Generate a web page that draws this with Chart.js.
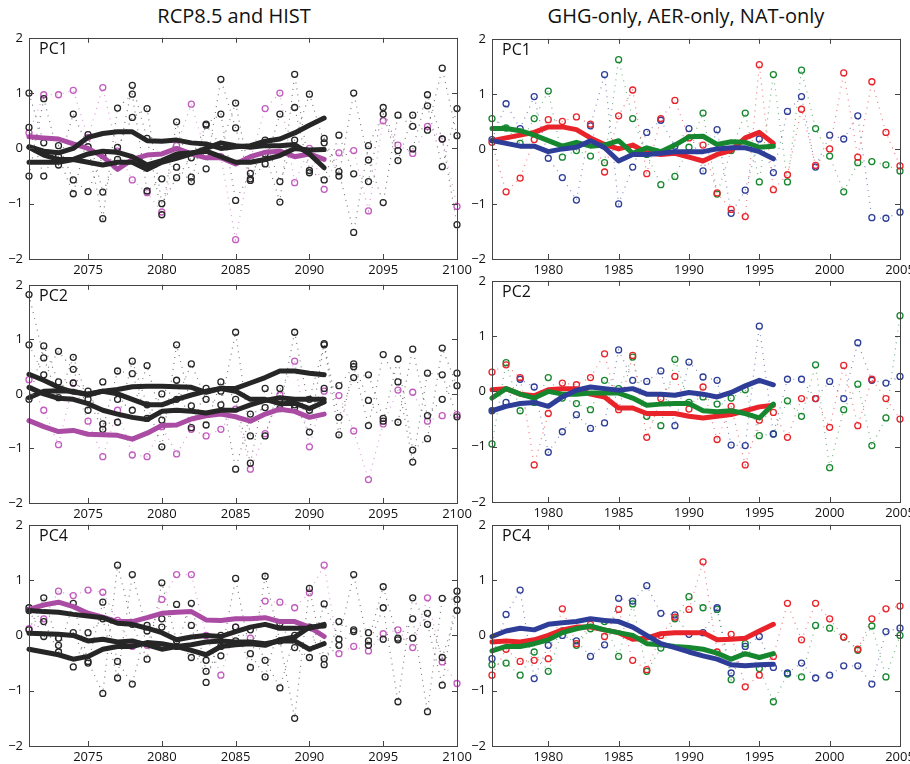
<!DOCTYPE html>
<html>
<head>
<meta charset="utf-8">
<script src="https://cdn.jsdelivr.net/npm/chart.js@4.4.1/dist/chart.umd.min.js"></script>
<style>
  body { margin: 0; width: 910px; height: 764px; overflow: hidden; background: #fff; position: relative; font-family: "Open Sans", sans-serif; }
  .ttl { position: absolute; top: 2px; font-size: 20px; color: #111; text-align: center; white-space: nowrap; }
  canvas { position: absolute; }
</style>
</head>
<body>
<div class="ttl" style="left:34px;width:400px">RCP8.5 and HIST</div>
<div class="ttl" style="left:486px;width:400px">GHG-only, AER-only, NAT-only</div>

<canvas id="l1"></canvas>
<canvas id="l2"></canvas>
<canvas id="l3"></canvas>
<canvas id="r1"></canvas>
<canvas id="r2"></canvas>
<canvas id="r3"></canvas>

<script>
// years and ticks
var yearsRcp = [2071,2072,2073,2074,2075,2076,2077,2078,2079,2080,2081,2082,2083,2084,2085,2086,2087,2088,2089,2090,2091,2092,2093,2094,2095,2096,2097,2098,2099,2100];
var yearsHist = [1976,1977,1978,1979,1980,1981,1982,1983,1984,1985,1986,1987,1988,1989,1990,1991,1992,1993,1994,1995,1996,1997,1998,1999,2000,2001,2002,2003,2004,2005];
var smoothRcp = [2071,2072,2073,2074,2075,2076,2077,2078,2079,2080,2081,2082,2083,2084,2085,2086,2087,2088,2089,2090,2091];
var smoothHist = [1976,1977,1978,1979,1980,1981,1982,1983,1984,1985,1986,1987,1988,1989,1990,1991,1992,1993,1994,1995,1996];
var rcpTicks = [2075,2080,2085,2090,2095,2100];
var histTicks = [1980,1985,1990,1995,2000,2005];
var yTicks = [-2,-1,0,1,2];

// ---- left, PC1 ----
var pc1RcpA = [1.0,0.1,-0.3,0.62,0.03,-1.27,0.73,0.98,-0.77,-0.55,-0.34,-0.6,0.44,0.62,-0.94,-0.45,-0.1,-0.97,1.34,-0.4,-0.57,0.24,-0.46,-0.6,0.74,-0.04,-0.01,0.97,0.17,-1.38];
var pc1RcpB = [0.38,-0.5,0.05,-0.57,-0.78,-0.13,0.02,0.56,0.72,-1.0,-0.53,-0.17,0.42,0.05,0.82,-0.55,-0.28,0.62,0.74,-0.44,0.18,-0.42,-1.52,0.05,0.62,-0.22,0.6,0.77,-0.33,0.72];
var pc1RcpC = [-0.5,0.9,-0.15,-0.82,0.25,-0.79,-0.2,1.14,0.18,-1.2,0.48,-0.52,-0.37,1.25,0.37,-0.58,0.15,-0.6,0.15,0.98,0.1,-0.5,1.0,-0.21,-0.98,0.6,0.4,0.33,1.45,0.23];
var pc1Hist = [0.28,0.97,0.97,1.05,0.2,1.1,-0.05,-0.57,-0.8,-1.15,0.05,0.8,-0.1,-0.15,-1.65,-0.2,0.72,1.0,-0.62,0.0,-0.74,-0.08,-0.04,-1.13,0.5,0.06,-0.09,0.4,0.17,-1.05];
var pc1HistMean = [0.21,0.19,0.17,0.08,0.0,-0.15,-0.38,-0.2,-0.12,-0.1,0.0,-0.1,-0.17,-0.17,-0.28,-0.15,-0.07,-0.05,-0.15,-0.1,-0.2];
var pc1MeanA = [0.03,-0.05,-0.08,0.0,0.2,0.27,0.3,0.3,0.14,0.13,0.15,0.1,0.08,0.0,0.03,0.05,0.13,0.17,0.28,0.42,0.55];
var pc1MeanB = [0.02,-0.12,-0.2,-0.2,-0.25,-0.3,-0.25,-0.25,-0.38,-0.25,-0.18,-0.1,0.0,0.1,0.05,0.02,0.05,0.05,0.07,-0.1,-0.35];
var pc1MeanC = [-0.25,-0.25,-0.25,-0.2,-0.1,-0.05,-0.07,-0.15,-0.3,-0.22,-0.1,-0.08,-0.05,-0.15,-0.25,-0.25,-0.2,-0.13,0.0,-0.03,-0.02];

// ---- left, PC2 ----
var pc2RcpA = [1.82,0.66,-0.07,0.67,-0.1,-0.65,0.42,0.37,-0.45,0.0,0.25,-0.62,0.1,0.05,-1.38,-0.37,-0.25,-0.27,1.13,-0.3,0.1,0.15,0.5,-0.58,0.72,0.22,-1.25,0.38,0.35,-0.42];
var pc2RcpB = [0.9,0.35,0.78,0.45,-0.3,0.22,-0.1,-0.3,0.52,-0.48,-0.1,0.55,-0.1,-0.2,1.13,-0.77,-0.77,0.1,-0.2,-0.7,0.92,-0.43,0.3,0.35,-0.45,-0.52,0.82,-0.4,-0.1,0.38];
var pc2RcpC = [-0.1,0.88,0.22,0.2,0.05,-0.55,-0.52,0.6,-0.2,-0.97,0.9,-0.22,-0.57,0.22,-0.1,-1.27,0.1,-0.1,-0.25,-0.1,0.9,-0.75,0.55,-0.12,-0.5,0.64,-1.03,-0.82,0.84,0.15];
var pc2Hist = [0.26,-0.3,-0.93,0.2,-0.5,-1.15,-0.3,-1.12,-1.15,-0.6,-1.1,-0.65,-0.77,-0.65,-0.28,-1.38,-0.73,-0.02,0.6,-0.97,0.05,-0.03,-0.68,-1.57,-0.55,0.07,0.03,-0.5,-0.4,-0.38];
var pc2HistMean = [-0.49,-0.6,-0.69,-0.67,-0.74,-0.75,-0.76,-0.83,-0.72,-0.58,-0.57,-0.46,-0.4,-0.37,-0.42,-0.5,-0.37,-0.28,-0.32,-0.43,-0.37];
var pc2MeanA = [0.36,0.25,0.12,0.03,0.0,0.05,0.08,0.13,0.14,0.14,0.13,0.12,0.03,0.1,0.1,0.2,0.3,0.42,0.42,0.38,0.35];
var pc2MeanB = [0.12,0.0,-0.08,-0.1,-0.18,-0.3,-0.37,-0.43,-0.47,-0.32,-0.3,-0.32,-0.35,-0.3,-0.3,-0.2,-0.12,-0.07,-0.1,-0.1,-0.1];
var pc2MeanC = [-0.07,0.05,0.06,0.05,-0.02,0.05,0.0,-0.1,-0.2,-0.2,-0.1,-0.02,0.05,0.1,0.05,-0.1,-0.1,-0.18,-0.17,-0.27,-0.15];

// ---- left, PC4 ----
var pc4RcpA = [0.5,0.25,-0.3,0.58,-0.47,-1.05,1.27,0.2,-0.43,0.95,-0.1,-0.4,-0.45,-0.2,-0.1,0.1,-0.45,-0.95,0.0,0.15,-0.53,0.25,0.07,-0.1,0.88,-0.08,-0.05,0.4,-0.4,0.45];
var pc4RcpB = [0.45,-0.02,-0.05,0.05,-0.5,0.6,-0.47,-0.88,0.18,0.3,-0.2,0.58,-0.65,-0.37,1.03,-0.33,-0.75,0.22,-0.22,-0.4,0.57,-0.07,1.1,-0.18,0.5,-1.2,0.68,0.2,-0.9,0.8];
var pc4RcpC = [0.1,0.68,-0.18,-0.57,0.05,0.3,-0.77,1.1,0.08,0.15,0.56,0.18,-0.85,0.0,0.15,-0.58,1.07,-0.1,-1.5,0.85,-0.42,-0.18,0.1,0.05,-0.07,-0.05,0.3,-1.38,0.67,0.65];
var pc4Hist = [0.12,0.3,0.8,0.72,0.82,0.78,0.27,-0.2,-0.18,0.65,1.1,1.1,0.0,-0.72,0.15,-0.05,0.62,0.6,0.5,0.77,1.27,-0.33,-0.2,-0.28,0.03,0.1,-0.22,0.68,-0.48,-0.87];
var pc4HistMean = [0.47,0.55,0.6,0.52,0.4,0.33,0.25,0.25,0.32,0.4,0.42,0.43,0.28,0.27,0.3,0.3,0.32,0.25,0.25,0.15,-0.02];
var pc4MeanA = [0.45,0.43,0.42,0.38,0.35,0.32,0.22,0.2,0.13,0.05,-0.08,-0.03,0.0,-0.02,0.07,0.15,0.2,0.13,0.13,0.13,0.2];
var pc4MeanB = [0.04,0.03,0.02,0.0,-0.1,-0.07,-0.12,-0.1,-0.17,-0.25,-0.2,-0.17,-0.12,-0.1,-0.12,-0.12,-0.15,-0.1,-0.1,-0.25,-0.15];
var pc4MeanC = [-0.25,-0.3,-0.35,-0.43,-0.38,-0.25,-0.2,-0.2,-0.13,-0.15,-0.2,-0.27,-0.35,-0.2,-0.17,-0.15,-0.18,-0.08,-0.03,0.15,0.17];

// ---- right, PC1 ----
var pc1Ghg = [0.12,-0.78,-0.53,0.17,0.53,0.5,0.58,0.45,-0.42,0.6,1.07,-0.45,0.55,0.88,0.2,0.07,-0.8,-1.1,-1.23,1.53,-0.74,-0.47,0.72,-0.3,0.0,1.38,-0.15,1.22,0.3,-0.31];
var pc1Aer = [0.17,0.82,0.37,0.95,-0.17,-0.52,-0.93,0.42,1.35,-1.0,-0.33,0.3,0.52,0.05,0.37,-0.4,0.35,-1.17,-0.75,0.18,-0.43,0.68,0.95,-0.33,0.25,0.18,0.6,-1.25,-1.26,-1.15];
var pc1Nat = [0.55,0.38,0.1,0.55,1.05,-0.15,-0.03,-0.13,-0.25,1.62,0.55,-0.1,-0.65,-0.5,0.03,0.65,-0.82,-0.03,0.65,-0.6,1.35,-0.6,1.43,0.37,-0.13,-0.78,-0.25,-0.23,-0.29,-0.4];
var pc1GhgMean = [0.15,0.2,0.25,0.3,0.4,0.4,0.35,0.2,0.08,0.0,0.07,-0.07,-0.1,-0.08,-0.15,-0.22,-0.1,-0.03,0.2,0.3,0.1];
var pc1AerMean = [0.15,0.1,0.05,0.05,-0.05,0.0,0.03,0.15,0.02,-0.22,-0.1,-0.1,-0.08,-0.05,-0.05,-0.05,0.0,0.02,0.02,-0.05,-0.18];
var pc1NatMean = [0.37,0.37,0.33,0.25,0.15,0.05,0.12,0.05,0.07,0.15,-0.08,0.02,-0.05,0.07,0.22,0.23,0.08,0.13,0.12,0.03,0.05];

// ---- right, PC2 ----
var pc2Ghg = [0.35,0.48,0.25,-1.33,-0.4,0.15,0.12,0.25,0.68,-0.33,0.65,-0.83,-0.13,0.27,-0.32,0.08,-0.87,-0.27,-1.33,-0.52,-0.38,-0.83,-0.13,-0.13,-0.65,0.47,-0.62,0.22,-0.13,-0.5];
var pc2Aer = [-0.35,-0.2,0.22,0.08,-1.1,-0.73,-0.42,-0.67,-0.57,0.75,0.2,0.18,0.37,-0.62,0.53,0.26,0.2,-0.97,-0.98,1.18,-0.77,0.22,0.22,-0.13,0.18,-0.13,0.88,0.2,0.15,0.27];
var pc2Nat = [-0.95,0.52,-0.35,-0.2,0.25,-0.12,-0.22,-0.33,0.2,0.05,0.62,-0.45,-0.62,0.58,-0.2,-0.1,-0.23,-0.12,0.03,-0.8,-0.77,-0.17,-0.45,0.48,-1.38,-0.33,0.13,-0.98,-0.48,1.37];
var pc2GhgMean = [0.03,0.05,-0.05,-0.08,0.03,0.05,0.05,-0.05,-0.1,-0.3,-0.3,-0.4,-0.4,-0.4,-0.45,-0.48,-0.45,-0.42,-0.35,-0.28,-0.25];
var pc2AerMean = [-0.35,-0.27,-0.22,-0.2,-0.27,-0.1,0.02,0.08,0.05,0.02,0.05,-0.05,-0.05,-0.07,-0.02,-0.05,-0.1,-0.02,0.1,0.2,0.12];
var pc2NatMean = [-0.12,0.05,-0.05,-0.12,0.0,-0.05,-0.05,-0.03,-0.03,-0.03,-0.12,-0.25,-0.23,-0.22,-0.22,-0.35,-0.37,-0.35,-0.4,-0.48,-0.23];

// ---- right, PC4 ----
var pc4Ghg = [-0.72,-0.25,-0.47,-0.45,-0.42,0.48,-0.15,0.2,-0.02,0.47,-0.45,-0.62,0.0,0.33,0.47,1.33,-0.3,0.02,-0.93,-0.72,-0.38,0.58,-0.08,0.58,0.3,-0.03,-0.25,0.3,0.48,0.53];
var pc4Aer = [-0.42,0.38,0.82,-0.78,-0.18,0.0,-0.1,-0.38,-0.17,0.67,0.62,0.9,0.4,0.37,0.02,0.05,0.5,-0.68,-0.2,-0.02,-0.58,-0.68,-0.5,-0.77,-0.72,-0.55,-0.55,-0.88,0.07,0.13];
var pc4Nat = [-0.53,-0.5,-0.72,-0.3,-0.65,0.08,-0.18,0.12,0.25,-0.38,0.57,-0.65,-0.23,0.3,0.7,0.5,0.47,-0.8,-0.15,-0.6,-1.2,-0.7,-0.75,0.18,0.13,-0.03,-0.27,0.17,-0.75,0.0];
var pc4GhgMean = [-0.12,-0.1,-0.12,-0.08,0.0,0.1,0.15,0.15,0.1,0.05,-0.07,-0.05,0.03,0.05,0.05,0.05,-0.08,-0.07,-0.05,0.08,0.2];
var pc4AerMean = [-0.02,0.08,0.13,0.1,0.2,0.23,0.25,0.3,0.27,0.25,0.15,0.0,-0.15,-0.22,-0.3,-0.37,-0.43,-0.53,-0.55,-0.53,-0.52];
var pc4NatMean = [-0.28,-0.2,-0.2,-0.15,-0.08,0.05,0.12,0.17,0.1,0.05,0.0,-0.15,-0.17,-0.2,-0.22,-0.25,-0.32,-0.43,-0.33,-0.4,-0.33];

// colours
var black = "#262626";
var purpleDot = "#c25cbe";
var purpleThick = "#aa4ba4";
var red = "#e8232a";
var blue = "#2e3e98";
var green = "#17872f";

var pts = (xs, ys) => xs.map((x, i) => ({ x: x, y: ys[i] }));

// faint version of a colour for the dotted joins
var faint = (hex) => {
  var n = parseInt(hex.slice(1), 16);
  return "rgba(" + (n >> 16) + "," + ((n >> 8) & 255) + "," + (n & 255) + ",0.6)";
};

var dotted = (xs, ys, color) => ({
  data: pts(xs, ys),
  borderColor: faint(color),
  borderWidth: 1.2,
  borderDash: [1, 5],
  pointRadius: 3,
  pointBorderWidth: 1.3,
  pointBorderColor: color,
  pointBackgroundColor: "rgba(0,0,0,0)",
  tension: 0,
  clip: false,
  order: 2
});

var thick = (xs, ys, color) => ({
  data: pts(xs, ys),
  borderColor: color,
  borderWidth: 5,
  pointRadius: 0,
  tension: 0,
  borderJoinStyle: "round",
  borderCapStyle: "round",
  clip: false,
  order: 1
});

// box with inward ticks and the PC label
var framePlugin = {
  id: "frame",
  afterDraw(chart, args, opts) {
    var ctx = chart.ctx;
    var a = chart.chartArea;
    var xs = chart.scales.x, ys = chart.scales.y;
    ctx.save();
    ctx.strokeStyle = "#444";
    ctx.lineWidth = 1;
    ctx.strokeRect(Math.round(a.left) + 0.5, Math.round(a.top) + 0.5, Math.round(a.right - a.left), Math.round(a.bottom - a.top));
    ctx.beginPath();
    xs.ticks.forEach(t => {
      var px = Math.round(xs.getPixelForValue(t.value)) + 0.5;
      ctx.moveTo(px, a.bottom); ctx.lineTo(px, a.bottom - 5);
      ctx.moveTo(px, a.top); ctx.lineTo(px, a.top + 5);
    });
    ys.ticks.forEach(t => {
      var py = Math.round(ys.getPixelForValue(t.value)) + 0.5;
      ctx.moveTo(a.left, py); ctx.lineTo(a.left + 5, py);
      ctx.moveTo(a.right, py); ctx.lineTo(a.right - 5, py);
    });
    ctx.stroke();
    ctx.fillStyle = "#111";
    ctx.font = "16px 'Open Sans'";
    ctx.textBaseline = "top";
    ctx.fillText(opts.label, a.left + 10, a.top + 4);
    ctx.restore();
  }
};

var makePanel = (id, area, xMin, xMax, xTicks, label, datasets) => {
  var padTop = 12, yW = 40, xH = 26, padRight = 34;
  var cv = document.getElementById(id);
  var w = yW + area.w + padRight, h = padTop + area.h + xH;
  cv.width = w; cv.height = h;
  cv.style.left = (area.left - yW) + "px";
  cv.style.top = (area.top - padTop) + "px";
  cv.style.width = w + "px"; cv.style.height = h + "px";
  return new Chart(cv, {
    type: "line",
    data: { datasets: datasets },
    options: {
      responsive: false,
      animation: false,
      devicePixelRatio: 1,
      layout: { padding: { top: padTop, right: padRight, left: 0, bottom: 0 } },
      plugins: { legend: { display: false }, tooltip: { enabled: false }, frame: { label: label } },
      scales: {
        x: {
          type: "linear", min: xMin, max: xMax,
          grid: { display: false, drawTicks: false },
          border: { display: false },
          afterBuildTicks: s => { s.ticks = xTicks.map(v => ({ value: v })); },
          afterFit: s => { s.height = xH; },
          ticks: { autoSkip: false, maxRotation: 0, padding: 3, color: "#111", font: { family: "Open Sans", size: 13 }, callback: v => String(v) }
        },
        y: {
          min: -2, max: 2,
          grid: { display: false, drawTicks: false },
          border: { display: false },
          afterBuildTicks: s => { s.ticks = yTicks.map(v => ({ value: v })); },
          afterFit: s => { s.width = yW; },
          ticks: { padding: 6, color: "#111", font: { family: "Open Sans", size: 13 }, callback: v => String(v).replace("-", "\u2212") }
        }
      }
    },
    plugins: [framePlugin]
  });
};

makePanel("l1", { left: 29, top: 36, w: 428, h: 223 }, 2071, 2100, rcpTicks, "PC1", [
  thick(smoothRcp, pc1MeanA, black), thick(smoothRcp, pc1MeanB, black), thick(smoothRcp, pc1MeanC, black),
  thick(smoothRcp, pc1HistMean, purpleThick),
  dotted(yearsRcp, pc1RcpA, black), dotted(yearsRcp, pc1RcpB, black), dotted(yearsRcp, pc1RcpC, black),
  dotted(yearsRcp, pc1Hist, purpleDot)
]);
makePanel("l2", { left: 29, top: 283, w: 428, h: 220 }, 2071, 2100, rcpTicks, "PC2", [
  thick(smoothRcp, pc2MeanA, black), thick(smoothRcp, pc2MeanB, black), thick(smoothRcp, pc2MeanC, black),
  thick(smoothRcp, pc2HistMean, purpleThick),
  dotted(yearsRcp, pc2RcpA, black), dotted(yearsRcp, pc2RcpB, black), dotted(yearsRcp, pc2RcpC, black),
  dotted(yearsRcp, pc2Hist, purpleDot)
]);
makePanel("l3", { left: 29, top: 523, w: 428, h: 223 }, 2071, 2100, rcpTicks, "PC4", [
  thick(smoothRcp, pc4MeanA, black), thick(smoothRcp, pc4MeanB, black), thick(smoothRcp, pc4MeanC, black),
  thick(smoothRcp, pc4HistMean, purpleThick),
  dotted(yearsRcp, pc4RcpA, black), dotted(yearsRcp, pc4RcpB, black), dotted(yearsRcp, pc4RcpC, black),
  dotted(yearsRcp, pc4Hist, purpleDot)
]);
makePanel("r1", { left: 492, top: 37, w: 408, h: 222 }, 1976, 2005, histTicks, "PC1", [
  thick(smoothHist, pc1AerMean, blue), thick(smoothHist, pc1NatMean, green), thick(smoothHist, pc1GhgMean, red),
  dotted(yearsHist, pc1Ghg, red), dotted(yearsHist, pc1Aer, blue), dotted(yearsHist, pc1Nat, green)
]);
makePanel("r2", { left: 492, top: 279, w: 408, h: 223 }, 1976, 2005, histTicks, "PC2", [
  thick(smoothHist, pc2AerMean, blue), thick(smoothHist, pc2NatMean, green), thick(smoothHist, pc2GhgMean, red),
  dotted(yearsHist, pc2Ghg, red), dotted(yearsHist, pc2Aer, blue), dotted(yearsHist, pc2Nat, green)
]);
makePanel("r3", { left: 492, top: 523, w: 408, h: 223 }, 1976, 2005, histTicks, "PC4", [
  thick(smoothHist, pc4AerMean, blue), thick(smoothHist, pc4NatMean, green), thick(smoothHist, pc4GhgMean, red),
  dotted(yearsHist, pc4Ghg, red), dotted(yearsHist, pc4Aer, blue), dotted(yearsHist, pc4Nat, green)
]);
</script>
</body>
</html>
